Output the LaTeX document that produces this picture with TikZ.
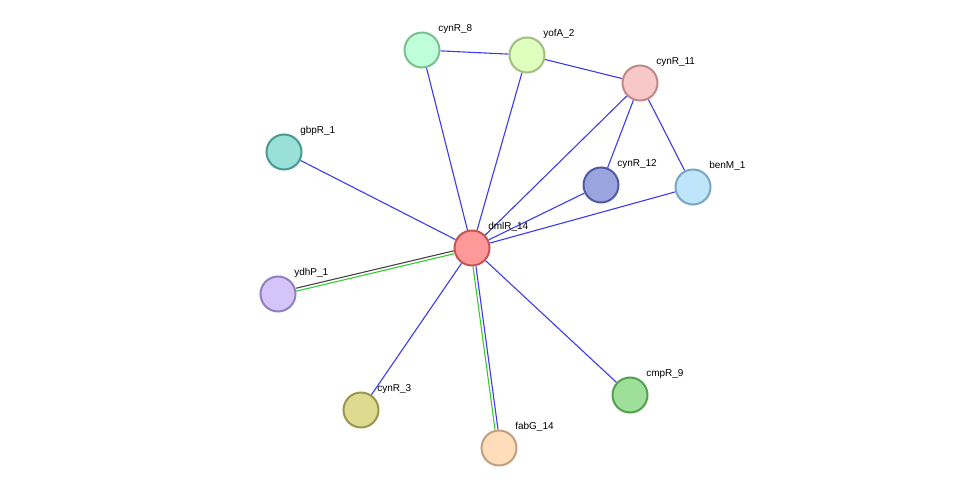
\documentclass[tikz,border=0pt]{standalone}
\usepackage{fontspec}
\setmainfont{Liberation Sans}
\usetikzlibrary{backgrounds}
\definecolor{edgeblue}{HTML}{3A3AF0}
\definecolor{edgegreen}{HTML}{33CC33}
\definecolor{edgegray}{HTML}{444444}
\begin{document}
\begin{tikzpicture}[x=1pt, y=-1pt,
      prot/.style 2 args={circle, /utils/exec={\definecolor{pfill}{HTML}{#1}\definecolor{pline}{HTML}{#2}},
          fill=pfill, draw=pline, line width=2pt, minimum size=35pt, inner sep=0pt},
      lab/.style={label={[font=\fontsize{10}{12}\selectfont, anchor=west, xshift=3pt, yshift=8pt, inner sep=0pt]north east:#1}},
      link/.style={edgeblue, line width=1.1pt}]
            \useasboundingbox (0,0) rectangle (975,494);
            \node[prot={FF9999}{C05555}, lab=dmlR\_14] (dmlR14) at (472, 248) {};
            \node[prot={BFFFD9}{7ABF90}, lab=cynR\_8] (cynR8) at (422, 50) {};
            \node[prot={DFFFBF}{A0BF80}, lab=yofA\_2] (yofA2) at (527, 55) {};
            \node[prot={F8C8C8}{C08888}, lab=cynR\_11] (cynR11) at (640, 83) {};
            \node[prot={99E0D8}{4A9A90}, lab=gbpR\_1] (gbpR1) at (284, 152) {};
            \node[prot={9AA4DE}{505AA0}, lab=cynR\_12] (cynR12) at (601, 185) {};
            \node[prot={BFE5FA}{7AA5C0}, lab=benM\_1] (benM1) at (693, 187) {};
            \node[prot={D4C4FA}{9080C0}, lab=ydhP\_1] (ydhP1) at (278, 294) {};
            \node[prot={DEDB90}{9A9650}, lab=cynR\_3] (cynR3) at (361, 410) {};
            \node[prot={FFDDBB}{C0A080}, lab=fabG\_14] (fabG14) at (499, 448) {};
            \node[prot={9EE09A}{55A050}, lab=cmpR\_9] (cmpR9) at (630, 395) {};
            \begin{pgfonlayer}{background}
            \draw[link] (cynR8) -- (yofA2);
            \draw[link] (yofA2) -- (cynR11);
            \draw[link] (cynR11) -- (cynR12);
            \draw[link] (cynR11) -- (benM1);
            \foreach \p in {cynR8, yofA2, cynR11, gbpR1, cynR12, benM1, cynR3, cmpR9}
                \draw[link] (\p) -- (dmlR14);
            \draw[edgegray, line width=1.1pt, transform canvas={yshift=1.5pt}] (ydhP1) -- (dmlR14);
            \draw[edgegreen, line width=1.1pt, transform canvas={yshift=-1.5pt}] (ydhP1) -- (dmlR14);
            \draw[edgegreen, line width=1.1pt, transform canvas={xshift=-1.5pt}] (fabG14) -- (dmlR14);
            \draw[link, transform canvas={xshift=1.5pt}] (fabG14) -- (dmlR14);
            \end{pgfonlayer}
      \end{tikzpicture}
\end{document}
